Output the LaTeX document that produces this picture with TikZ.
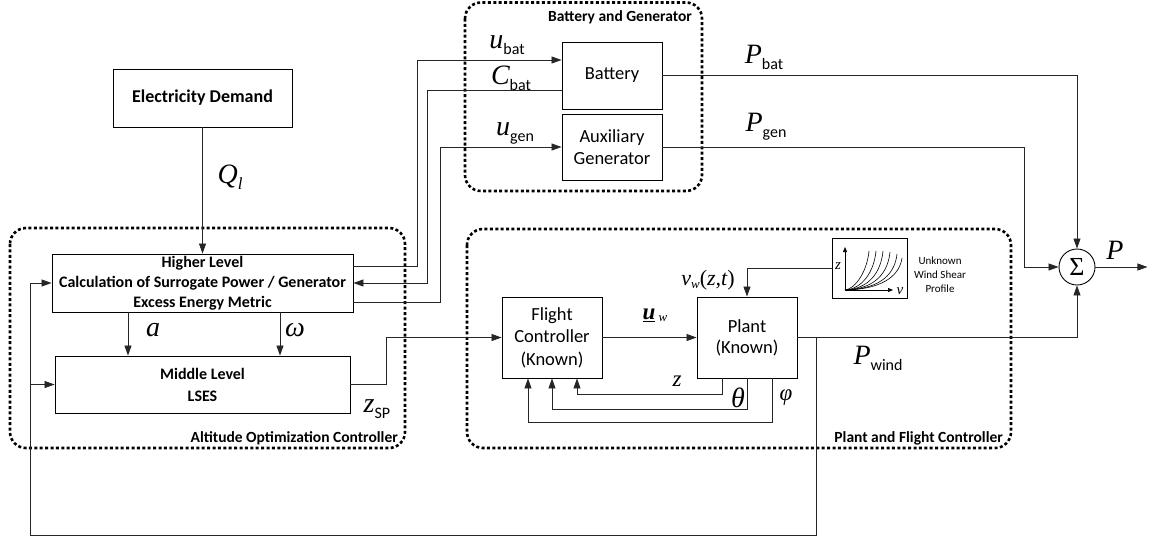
\documentclass[tikz,border=0pt]{standalone}
\usepackage{fontspec}
\setmainfont{Carlito}
\newfontfamily\tnr{Liberation Serif}
\usetikzlibrary{arrows.meta,positioning,calc}
\tikzset{
  ctl/box/.style={
    draw=black,
    line width=0.9pt,
    fill=white,
    align=center,
    inner sep=2pt,
    font=\fontsize{18.5}{22.5}\selectfont
  },
  ctl/boldbox/.style={
    ctl/box,
    font=\bfseries\fontsize{16}{20}\selectfont
  },
  ctl/group/.style={
    draw=black,
    line width=2.6pt,
    dash pattern=on 3pt off 2.4pt,
    rounded corners=16pt
  },
  ctl/grouplabel/.style={font=\bfseries\fontsize{15.5}{16}\selectfont, inner sep=0pt},
  ctl/arrow/.style={-{Triangle[length=10pt,width=7pt]}, line width=0.8pt, draw=black!85},
  ctl/line/.style={line width=0.8pt, draw=black!85},
  ctl/sym/.style={font=\tnr\itshape\fontsize{28}{28}\selectfont, inner sep=0pt},
  ctl/smallsym/.style={font=\tnr\itshape\fontsize{23}{23}\selectfont, inner sep=0pt},
  ctl/sum/.style={circle, draw=black, line width=0.9pt, minimum size=36pt, inner sep=0pt, font=\tnr\fontsize{26}{26}\selectfont},
  ctl/axis/.style={-{Triangle[length=5pt,width=4pt]}, line width=0.7pt}
}
\newcommand\lowtag[1]{{\normalfont\fontsize{16}{16}\selectfont\raisebox{-6pt}{#1}}}

\begin{document}
\begin{tikzpicture}[x=1pt,y=-1pt]
  \useasboundingbox (0,0) rectangle (1153,542);

  % dotted groups
  \draw[ctl/group] (10,228) rectangle (405,448);
  \draw[ctl/group] (465,2.5) rectangle (702,191);
  \draw[ctl/group] (467,229) rectangle (1011,448);
  \node[ctl/grouplabel, anchor=east] (aoclabel) at (398,438) {Altitude Optimization Controller};
  \node[ctl/grouplabel] (bglabel) at (620,17) {Battery and Generator};
  \node[ctl/grouplabel, anchor=east] (pfclabel) at (1003,438) {Plant and Flight Controller};

  % blocks
  \node[ctl/boldbox, font=\bfseries\fontsize{18}{20}\selectfont, minimum width=179pt, minimum height=58pt] (demand) at (202.5,98) {Electricity Demand};
  \node[ctl/boldbox, minimum width=301pt, minimum height=58pt] (higher) at (202.5,283) {Higher Level\\Calculation of Surrogate Power / Generator\\Excess Energy Metric};
  \node[ctl/boldbox, font=\bfseries\fontsize{16}{22}\selectfont, minimum width=295pt, minimum height=57pt] (middle) at (202.5,384.5) {Middle Level\\LSES};
  \node[ctl/box, minimum width=100pt, minimum height=67pt] (battery) at (612,75.5) {Battery};
  \node[ctl/box, minimum width=100pt, minimum height=66pt] (auxgen) at (612,147) {Auxiliary\\Generator};
  \node[ctl/box, minimum width=100pt, minimum height=81pt] (flight) at (552,337.5) {Flight\\Controller\\(Known)};
  \node[ctl/box, font=\fontsize{18.5}{21}\selectfont, minimum width=100pt, minimum height=81pt] (plant) at (747,337.5) {Plant\\(Known)};
  \node[ctl/box, minimum width=75pt, minimum height=60pt] (wind) at (869.5,268) {};
  \node[font=\fontsize{11}{14}\selectfont, align=center] (windtext) at (940,275) {Unknown\\Wind Shear\\Profile};
  \node[ctl/sum] (sum) at (1077,267) {Σ};

  % wind shear sketch
  \coordinate (wo) at (845,290);
  \draw[ctl/axis] (wo) -- (845,247);
  \draw[ctl/axis] (wo) -- (893,290);
  \node[font=\tnr\itshape\fontsize{15}{15}\selectfont, inner sep=0pt] (zaxis) at (838,266) {z};
  \node[font=\tnr\itshape\fontsize{15}{15}\selectfont, inner sep=0pt] (vaxis) at (900,291) {v};
  \foreach \xe/\ye in {869/251, 876/251, 883/251, 890/252, 897/254, 902/258}
    \draw[line width=0.6pt] (wo) .. controls (\xe-14,289) and (\xe-2,272) .. (\xe,\ye);

  % supervisory signals
  \draw[ctl/arrow] (demand.south) -- (higher.north);
  \draw[ctl/arrow] (higher.south -| 128,0) -- (middle.north -| 128,0);
  \draw[ctl/arrow] (higher.south -| 280,0) -- (middle.north -| 280,0);
  \draw[ctl/arrow] ([yshift=17pt]higher.east) -- ++(64,0) |- ([yshift=15.5pt]battery.west);
  \draw[ctl/arrow] ([yshift=-14.5pt]battery.west) -- ++(-134,0) |- (higher.east);
  \draw[ctl/arrow] ([yshift=-19pt]higher.east) -- ++(87,0) |- (auxgen.west);
  \draw[ctl/arrow] (middle.east) -- ++(36,0) |- (flight.west);

  % plant loop
  \draw[ctl/arrow] (flight.east) -- (plant.west);
  \draw[ctl/arrow] ([xshift=-25pt]plant.south) -- ++(0,16) -| ([xshift=25pt]flight.south);
  \draw[ctl/arrow] (plant.south) -- ++(0,31) -| (flight.south);
  \draw[ctl/arrow] ([xshift=25pt]plant.south) -- ++(0,44) -| ([xshift=-24pt]flight.south);
  \draw[ctl/arrow] (wind.west) -| (plant.north);

  % power summation
  \draw[ctl/arrow] (battery.east) -| (sum.north);
  \draw[ctl/arrow] (auxgen.east) -- ++(362,0) |- (sum.west);
  \draw[ctl/arrow] (plant.east) -| (sum.south);
  \draw[ctl/arrow] (sum.east) -- ++(52,0) coordinate (pout);

  % altitude feedback
  \coordinate (corner) at (30,535);
  \draw[ctl/arrow] ([xshift=19pt]plant.east) |- (corner) |- (higher.west);
  \draw[ctl/arrow] (corner |- middle.west) -- (middle.west);

  % labels
  \node[ctl/sym] (ql) at (230,177) {Q{\fontsize{17}{17}\selectfont\raisebox{-6pt}{l}}};
  \node[ctl/sym] (ubat) at (507,45) {u\lowtag{bat}};
  \node[ctl/sym] (cbat) at (511,78) {C\lowtag{bat}};
  \node[ctl/sym] (ugen) at (515,133) {u\lowtag{gen}};
  \node[ctl/sym] (pbat) at (764,57) {P\lowtag{bat}};
  \node[ctl/sym] (pgen) at (766,127) {P\lowtag{gen}};
  \node[ctl/sym] (alab) at (153,330) {a};
  \node[ctl/sym] (wlab) at (295,330) {ω};
  \node[ctl/sym] (zsp) at (377,409) {z\lowtag{SP}};
  \node[ctl/smallsym] (uw) at (655,315) {\underline{\bfseries u}{\fontsize{13}{13}\selectfont\mdseries\raisebox{-2pt}{ w}}};
  \node[font=\tnr\itshape\fontsize{22}{22}\selectfont, inner sep=0pt] (vw) at (708,280) {v{\fontsize{13}{13}\selectfont\raisebox{-3pt}{w}}{\upshape(}z,t{\upshape)}};
  \node[ctl/smallsym] (zlab) at (677,381) {z};
  \node[ctl/sym] (thlab) at (738,398) {θ};
  \node[ctl/smallsym] (philab) at (786,398) {φ};
  \node[ctl/sym] (pwind) at (878,358) {P\lowtag{wind}};
  \node[ctl/sym] (plab) at (1115,250) {P};
\end{tikzpicture}
\end{document}
